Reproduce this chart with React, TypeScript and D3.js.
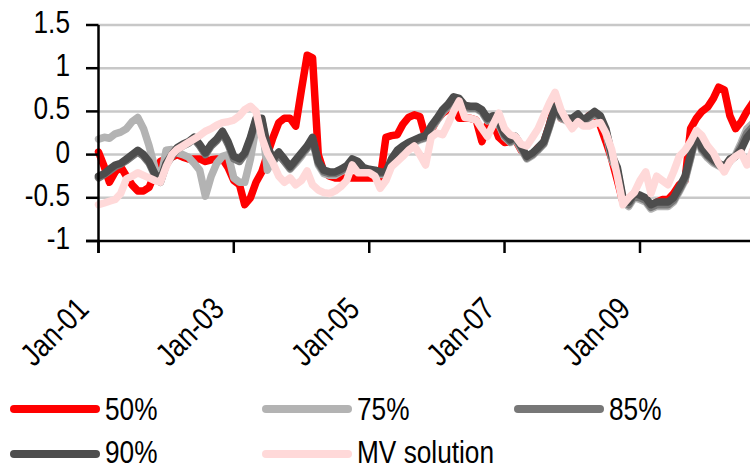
import { useEffect, useRef } from 'react';
import * as d3 from 'd3';

// monthly observations, Jan-01 .. Sep-10
const startMonth = new Date(2001, 0, 1);
const endMonth = new Date(2010, 9, 1);

const series50 = [
  0.03, -0.14, -0.32, -0.2, -0.14, -0.25, -0.35, -0.42, -0.42, -0.38, -0.22, -0.08,
  -0.05, -0.03, 0.0, -0.03, -0.05, -0.05, -0.05, -0.08, -0.06, -0.05, -0.05, -0.15,
  -0.3, -0.35, -0.58, -0.5, -0.32, -0.2, 0.0, 0.2, 0.37, 0.42, 0.42, 0.33,
  0.75, 1.15, 1.12, 0.0, -0.2, -0.25, -0.27, -0.27, -0.27, -0.27, -0.27, -0.27,
  -0.27, -0.27, -0.28, 0.2, 0.22, 0.23, 0.35, 0.43, 0.46, 0.44, 0.2, 0.28,
  0.4, 0.48, 0.52, 0.55, 0.42, 0.42, 0.42, 0.4, 0.15, 0.35, 0.37, 0.2,
  0.14, 0.15, 0.17, 0.05, -0.02, 0.0, 0.08, 0.14, 0.35, 0.6, 0.42, 0.4,
  0.4, 0.44, 0.37, 0.45, 0.48, 0.33, 0.15, -0.05, -0.3, -0.55, -0.55, -0.45,
  -0.49, -0.52, -0.6, -0.55, -0.52, -0.52, -0.45, -0.35, -0.3, 0.3, 0.42, 0.5,
  0.55, 0.65, 0.78, 0.75, 0.45, 0.3, 0.38, 0.5, 0.6,
];

const series75 = [
  0.18, 0.2, 0.19, 0.24, 0.26, 0.3, 0.38, 0.43, 0.3, 0.1, -0.15, -0.3,
  0.05, 0.06, 0.02, 0.0, -0.03, -0.1, -0.18, -0.48, -0.25, -0.1, -0.02, 0.0,
  -0.27, -0.32, -0.32, -0.05, 0.32, 0.38, -0.18, -0.05, 0.0, -0.08, -0.17, -0.1,
  -0.02, 0.07, 0.17, -0.12, -0.22, -0.24, -0.24, -0.2, -0.16, -0.08, -0.12, -0.18,
  -0.2, -0.21, -0.23, -0.23, -0.08, 0.02, 0.07, 0.12, 0.14, 0.17, 0.19, 0.3,
  0.39, 0.49, 0.55, 0.64, 0.62, 0.54, 0.53, 0.53, 0.49, 0.39, 0.42, 0.35,
  0.2, 0.14, 0.18, 0.06, -0.05, -0.01, 0.05, 0.12, 0.32, 0.53, 0.42, 0.39,
  0.39, 0.44, 0.37, 0.42, 0.47, 0.42, 0.26, -0.05, -0.2, -0.55, -0.6, -0.5,
  -0.52, -0.55, -0.63, -0.6, -0.6, -0.6, -0.55, -0.43, -0.3, -0.05, 0.22, 0.04,
  -0.04, -0.1, -0.13, -0.17, -0.08, 0.0, 0.14, 0.3, 0.36,
];

const series85 = [
  -0.27, -0.23, -0.19, -0.14, -0.11, -0.07, -0.02, 0.03, -0.02, -0.1, -0.24, -0.32,
  -0.12, -0.02, 0.06, 0.1, 0.13, 0.18, 0.1, 0.0, 0.1, 0.16, 0.25, 0.12,
  -0.05, -0.08, 0.0, 0.18, 0.4, 0.4, 0.06, -0.08, 0.0, -0.08, -0.16, -0.08,
  0.0, 0.08, 0.18, -0.1, -0.2, -0.22, -0.22, -0.19, -0.15, -0.07, -0.1, -0.17,
  -0.19, -0.2, -0.22, -0.22, -0.07, 0.03, 0.08, 0.12, 0.15, 0.18, 0.2, 0.31,
  0.4, 0.5, 0.56, 0.65, 0.63, 0.55, 0.54, 0.54, 0.5, 0.4, 0.43, 0.36,
  0.22, 0.15, 0.19, 0.08, -0.04, 0.0, 0.06, 0.13, 0.33, 0.54, 0.43, 0.4,
  0.4, 0.45, 0.38, 0.43, 0.48, 0.43, 0.28, -0.03, -0.18, -0.53, -0.58, -0.48,
  -0.5, -0.53, -0.61, -0.58, -0.58, -0.58, -0.53, -0.41, -0.28, -0.03, 0.23, 0.06,
  -0.02, -0.08, -0.12, -0.16, -0.07, -0.02, 0.1, 0.25, 0.32,
];

const series90 = [
  -0.25, -0.22, -0.17, -0.12, -0.1, -0.05, 0.0, 0.05, 0.0, -0.08, -0.22, -0.3,
  -0.1, 0.0, 0.08, 0.12, 0.15, 0.2, 0.12, 0.02, 0.12, 0.18, 0.27, 0.15,
  -0.02, -0.05, 0.02, 0.2, 0.42, 0.42, 0.1, -0.05, 0.03, -0.05, -0.14, -0.06,
  0.02, 0.1, 0.2, -0.08, -0.18, -0.2, -0.2, -0.17, -0.13, -0.05, -0.08, -0.15,
  -0.17, -0.18, -0.2, -0.2, -0.05, 0.05, 0.1, 0.14, 0.17, 0.2, 0.22, 0.33,
  0.42, 0.52, 0.58, 0.67, 0.65, 0.57, 0.56, 0.56, 0.52, 0.42, 0.45, 0.38,
  0.24, 0.17, 0.21, 0.1, -0.02, 0.02, 0.08, 0.15, 0.35, 0.56, 0.45, 0.42,
  0.42, 0.47, 0.4, 0.45, 0.5, 0.45, 0.3, 0.0, -0.15, -0.5, -0.55, -0.45,
  -0.47, -0.5, -0.58, -0.55, -0.55, -0.55, -0.5, -0.38, -0.25, 0.0, 0.25, 0.08,
  0.0, -0.06, -0.1, -0.14, -0.05, -0.02, 0.06, 0.2, 0.28,
];

const seriesMV = [
  -0.58, -0.56, -0.54, -0.52, -0.45, -0.28, -0.25, -0.21, -0.24, -0.27, -0.3, -0.32,
  -0.14, 0.0, 0.06, 0.1, 0.14, 0.18, 0.22, 0.27, 0.3, 0.34, 0.37, 0.38,
  0.4, 0.45, 0.52, 0.56, 0.5, 0.2, 0.02, -0.1, -0.25, -0.32, -0.27, -0.35,
  -0.3, -0.19, -0.35, -0.41, -0.44, -0.45, -0.42, -0.37, -0.3, -0.12, -0.21, -0.21,
  -0.21, -0.25, -0.39, -0.3, -0.14, -0.08, -0.02, 0.05, 0.1, 0.0, -0.12, 0.2,
  0.25, 0.23, 0.35, 0.5, 0.62, 0.43, 0.42, 0.4, 0.3, 0.21, 0.35, 0.48,
  0.3, 0.23, 0.21, 0.12, 0.1, 0.2, 0.3, 0.45, 0.6, 0.72, 0.52, 0.4,
  0.3, 0.38, 0.33, 0.33, 0.36, 0.37, 0.25, 0.06, -0.25, -0.58, -0.5, -0.44,
  -0.3, -0.2, -0.45, -0.25, -0.3, -0.35, -0.2, -0.02, 0.05, 0.15, 0.28, 0.22,
  0.1, 0.02, -0.1, -0.2, -0.08, -0.02, 0.02, -0.12, 0.05,
];

const seriesNames = ['50%', '75%', '85%', '90%', 'MV solution'];
const seriesValues = [series50, series75, series85, series90, seriesMV];
const seriesColors = ['#ff0000', '#b3b3b3', '#777777', '#4d4d4d', '#ffd9d9'];

const yTicks = [-1, -0.5, 0, 0.5, 1, 1.5];
const xTickYears = [2001, 2003, 2005, 2007, 2009];

// no narrow face installed: squeeze Liberation Sans (Arial metrics) horizontally
const FONT = "'Liberation Sans', Arial, sans-serif";
const NARROW = 0.82;

function App() {
  const ref = useRef(null);

  const svgWidth = 750;
  const svgHeight = 467;

  useEffect(() => {
    const svg = d3.select(ref.current);
    svg.selectAll('*').remove();

    const months = d3.timeMonths(startMonth, d3.timeMonth.offset(endMonth, 1));

    const x = d3
      .scaleTime()
      .domain([new Date(2001, 0, 1), new Date(2009, 0, 1)])
      .range([98.5, 640]);

    const y = d3.scaleLinear().domain([-1, 1.5]).range([241, 25]);

    // gridlines
    svg
      .append('g')
      .selectAll('line')
      .data(yTicks.filter((t) => t > -1))
      .join('line')
      .attr('x1', 98.5)
      .attr('x2', svgWidth)
      .attr('y1', (d) => y(d))
      .attr('y2', (d) => y(d))
      .attr('stroke', '#c8c8c8')
      .attr('stroke-width', 2.5);

    // series lines
    const line = d3
      .line<number>()
      .x((_, i) => x(months[i]))
      .y((d) => y(d));

    svg
      .append('g')
      .selectAll('path')
      .data(seriesValues)
      .join('path')
      .attr('d', (d) => line(d))
      .attr('fill', 'none')
      .attr('stroke', (_, i) => seriesColors[i])
      .attr('stroke-width', 7.5)
      .attr('stroke-linejoin', 'round')
      .attr('stroke-linecap', 'round');

    // y axis
    const yAxis = svg.append('g');
    yAxis
      .append('line')
      .attr('x1', 98.5)
      .attr('x2', 98.5)
      .attr('y1', y(1.5))
      .attr('y2', y(-1) + 12)
      .attr('stroke', '#000')
      .attr('stroke-width', 2.5);
    yAxis
      .selectAll('line.tick')
      .data(yTicks)
      .join('line')
      .attr('class', 'tick')
      .attr('x1', 86)
      .attr('x2', 98.5)
      .attr('y1', (d) => y(d))
      .attr('y2', (d) => y(d))
      .attr('stroke', '#000')
      .attr('stroke-width', 2.5);
    yAxis
      .selectAll('text')
      .data(yTicks)
      .join('text')
      .attr('transform', (d) => `translate(70, ${y(d) + 8}) scale(${NARROW}, 1)`)
      .attr('text-anchor', 'end')
      .attr('font-family', FONT)
      .attr('font-size', 32)
      .text((d) => String(d));

    // x axis
    const xAxis = svg.append('g');
    xAxis
      .append('line')
      .attr('x1', 86)
      .attr('x2', svgWidth)
      .attr('y1', y(-1))
      .attr('y2', y(-1))
      .attr('stroke', '#000')
      .attr('stroke-width', 2.5);
    const tickDates = xTickYears.map((yr) => new Date(yr, 0, 1));
    xAxis
      .selectAll('line.tick')
      .data(tickDates)
      .join('line')
      .attr('class', 'tick')
      .attr('x1', (d) => x(d))
      .attr('x2', (d) => x(d))
      .attr('y1', y(-1))
      .attr('y2', y(-1) + 12)
      .attr('stroke', '#000')
      .attr('stroke-width', 2.5);
    const fmt = d3.timeFormat('%b-%y');
    xAxis
      .selectAll('text')
      .data(tickDates)
      .join('text')
      .attr(
        'transform',
        (d) => `translate(${x(d) - 8}, 311) rotate(-45) scale(${NARROW}, 1)`
      )
      .attr('text-anchor', 'end')
      .attr('font-family', FONT)
      .attr('font-size', 32)
      .text((d) => fmt(d));

    // legend
    const legendPos = [
      [10, 409],
      [262, 409],
      [514, 409],
      [10, 454],
      [262, 454],
    ];
    const legend = svg
      .append('g')
      .selectAll('g')
      .data(seriesNames)
      .join('g')
      .attr('transform', (_, i) => `translate(${legendPos[i][0]}, ${legendPos[i][1]})`);
    legend
      .append('line')
      .attr('x1', 4)
      .attr('x2', 86)
      .attr('stroke', (_, i) => seriesColors[i])
      .attr('stroke-width', 8)
      .attr('stroke-linecap', 'round');
    legend
      .append('text')
      .attr('transform', (_, i) => `translate(95, ${i < 3 ? 11 : 9}) scale(${NARROW}, 1)`)
      .attr('font-family', FONT)
      .attr('font-size', 32)
      .text((d) => d);
  }, []);

  return (
    <svg
      ref={ref}
      width={svgWidth}
      height={svgHeight}
      style={{ position: 'absolute', left: 0, top: 0, background: '#fff' }}
    ></svg>
  );
}

export default App;
